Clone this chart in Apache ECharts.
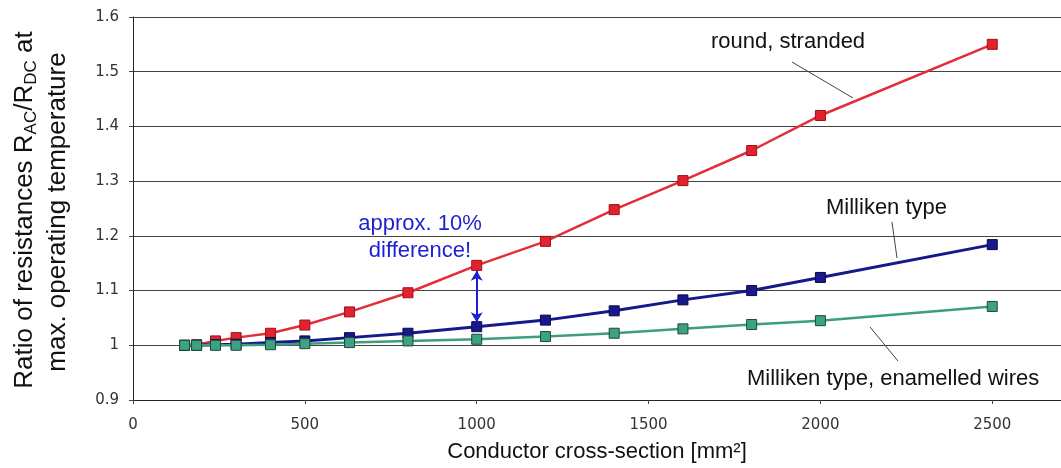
<!DOCTYPE html>
<html>
<head>
<meta charset="utf-8">
<script src="https://cdn.jsdelivr.net/npm/echarts@6/dist/echarts.min.js"></script>
<style>
html,body{margin:0;padding:0;background:#fff;}
#chart{width:1061px;height:468px;}
</style>
</head>
<body>
<div id="chart"></div>
<script>
// Conductor cross-sections [mm²]
const sections = [150, 185, 240, 300, 400, 500, 630, 800, 1000, 1200, 1400, 1600, 1800, 2000, 2500];
// Ratio RAC/RDC per conductor type
const roundStranded = [1.000, 1.001, 1.008, 1.014, 1.022, 1.037, 1.061, 1.096, 1.146, 1.190, 1.248, 1.301, 1.356, 1.420, 1.550];
const milliken = [1.000, 1.000, 1.001, 1.002, 1.005, 1.008, 1.014, 1.022, 1.034, 1.046, 1.063, 1.083, 1.100, 1.124, 1.184];
const millikenEnamelled = [1.000, 1.000, 1.000, 1.000, 1.001, 1.003, 1.005, 1.008, 1.011, 1.016, 1.022, 1.030, 1.038, 1.045, 1.071];
const seriesNames = ['round, stranded', 'Milliken type', 'Milliken type, enamelled wires'];
const xTicks = [0, 500, 1000, 1500, 2000, 2500];
const yTicks = [0.9, 1, 1.1, 1.2, 1.3, 1.4, 1.5, 1.6];

const pairs = (ys) => sections.map((x, i) => [x, ys[i]]);

const chart = echarts.init(document.getElementById('chart'), null, {renderer: 'canvas'});
const FONT = 'Liberation Sans, Arial, sans-serif';
const txt = {fontFamily: FONT, fill: '#111', fontSize: 22, align: 'left', verticalAlign: 'middle'};

chart.setOption({
  animation: false,
  backgroundColor: '#fff',
  grid: {left: 133, top: 17, width: 934, height: 386},
  xAxis: {
    type: 'value', min: 0, max: 2700, interval: 500,
    axisLine: {show: true, lineStyle: {color: '#222', width: 1}},
    axisTick: {show: true, length: 4, lineStyle: {color: '#444'}},
    axisLabel: {
      showMaxLabel: false, margin: 18, color: '#333', fontSize: 15,
      fontFamily: 'DejaVu Sans, Verdana, sans-serif',
      formatter: v => xTicks.includes(v) ? String(v) : ''
    },
    splitLine: {show: false},
    name: 'Conductor cross-section [mm²]',
    nameLocation: 'middle', nameGap: 41,
    nameTextStyle: {fontFamily: FONT, fontSize: 22, color: '#111'}
  },
  yAxis: {
    type: 'value', min: 0.9, max: 1.6, interval: 0.1,
    axisLine: {show: true, lineStyle: {color: '#222', width: 1}},
    axisTick: {show: true, length: 4, lineStyle: {color: '#444'}},
    axisLabel: {
      margin: 14, color: '#333', fontSize: 15,
      fontFamily: 'DejaVu Sans, Verdana, sans-serif',
      formatter: v => { const t = yTicks.find(k => Math.abs(k - v) < 1e-6); return t === undefined ? '' : String(t); }
    },
    splitLine: {show: true, lineStyle: {color: '#444', width: 1}}
  },
  series: [
    {
      name: seriesNames[0], type: 'line', data: pairs(roundStranded),
      symbol: 'rect', symbolSize: 10, z: 2,
      lineStyle: {color: '#e22d3a', width: 2.5},
      itemStyle: {color: '#e2222e', borderColor: '#a01018', borderWidth: 1},
      markLine: {
        silent: true, symbol: ['arrow', 'arrow'], symbolSize: [9, 10],
        label: {show: false},
        lineStyle: {color: '#1e1ed2', width: 2, type: 'solid'},
        data: [[{coord: [sections[8], roundStranded[8] - 0.010]}, {coord: [sections[8], milliken[8] + 0.008]}]]
      }
    },
    {
      name: seriesNames[1], type: 'line', data: pairs(milliken),
      symbol: 'rect', symbolSize: 10, z: 3,
      lineStyle: {color: '#17188c', width: 3},
      itemStyle: {color: '#18198e', borderColor: '#0a0a40', borderWidth: 1}
    },
    {
      name: seriesNames[2], type: 'line', data: pairs(millikenEnamelled),
      symbol: 'rect', symbolSize: 10, z: 4,
      lineStyle: {color: '#3c9e7a', width: 2.5},
      itemStyle: {color: '#3ca282', borderColor: '#1c4a3a', borderWidth: 1}
    }
  ],
  graphic: [
    {type: 'text', x: 711, y: 42, style: Object.assign({text: seriesNames[0]}, txt)},
    {type: 'line', shape: {x1: 792, y1: 62, x2: 853, y2: 98}, style: {stroke: '#444', lineWidth: 1}},
    {type: 'text', x: 826, y: 208, style: Object.assign({text: seriesNames[1]}, txt)},
    {type: 'line', shape: {x1: 892, y1: 222, x2: 897, y2: 258}, style: {stroke: '#444', lineWidth: 1}},
    {type: 'text', x: 747, y: 379, style: Object.assign({text: seriesNames[2]}, txt)},
    {type: 'line', shape: {x1: 870, y1: 327, x2: 898, y2: 361}, style: {stroke: '#444', lineWidth: 1}},
    {type: 'text', x: 420, y: 237, style: {
      text: 'approx. 10%\ndifference!', align: 'center', verticalAlign: 'middle',
      fontFamily: FONT, fontSize: 22, lineHeight: 27, fill: '#1e1ed2'}},
    {type: 'text', x: 25, y: 210, rotation: Math.PI / 2, style: {
      text: 'Ratio of resistances R{s|AC}/R{s|DC} at', align: 'center', verticalAlign: 'middle',
      fontFamily: FONT, fontSize: 26, fill: '#111',
      rich: {s: {fontSize: 17, fontFamily: FONT, fill: '#111', padding: [12, 0, 0, 0]}}}},
    {type: 'text', x: 58, y: 212, rotation: Math.PI / 2, style: {
      text: 'max. operating temperature', align: 'center', verticalAlign: 'middle',
      fontFamily: FONT, fontSize: 26, fill: '#111'}}
  ]
});
</script>
</body>
</html>
